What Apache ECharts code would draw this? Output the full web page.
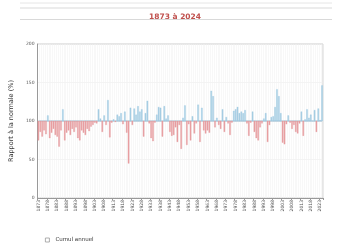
<!DOCTYPE html>
<html><head><meta charset="utf-8">
<script src="https://cdn.jsdelivr.net/npm/echarts@6/dist/echarts.min.js"></script>
<style>html,body{margin:0;padding:0;background:#fff}#c{width:350px;height:250px}</style>
</head><body><div id="c"></div>
<script>
const startYear = 1873;
const years = [];
for (let y = 1873; y <= 2024; y++) years.push(String(y));
const values = [
 75,86,80,88,83,107,78,85,90,82,
 80,67,88,115,75,85,88,82,90,86,
 92,78,75,88,85,82,90,87,93,95,
 98,97,115,103,86,107,95,127,79,98,
 102,99,108,106,110,96,112,85,45,117,
 95,116,108,119,112,115,80,110,126,97,
 78,74,98,108,118,117,80,119,103,107,
 86,81,82,92,73,95,64,104,120,69,
 96,75,106,84,97,121,73,117,88,84,
 88,85,139,132,92,104,95,90,115,86,
 105,97,82,98,113,115,118,110,112,110,
 114,97,81,98,112,86,78,75,92,97,
 103,110,73,95,105,106,118,141,132,110,
 72,70,96,107,98,90,95,86,84,97,
 112,81,102,115,104,108,100,114,86,116,
 101,146
];
const yTicks = [0, 50, 100, 150, 200];
const normal = 100;

const chart = echarts.init(document.getElementById('c'));
chart.setOption({
  animation: false,
  title: {
    text: '1873 à 2024', left: 'center', top: 8,
    textStyle: { color: '#c0504d', fontSize: 7.5, fontWeight: 'bold', fontFamily: 'DejaVu Sans' }
  },
  graphic: [
    { type: 'line', shape: { x1: 20, y1: 3, x2: 332, y2: 3 }, style: { stroke: '#e6e6e6', lineWidth: 1 } },
    { type: 'line', shape: { x1: 20, y1: 8, x2: 332, y2: 8 }, style: { stroke: '#d9d9d9', lineWidth: 1 } },
    { type: 'line', shape: { x1: 20, y1: 19.5, x2: 332, y2: 19.5 }, style: { stroke: '#d9d9d9', lineWidth: 1 } }
  ],
  legend: {
    left: 40, top: 232, itemWidth: 4, itemHeight: 4, itemGap: 3,
    icon: 'rect',
    data: [{ name: 'Cumul annuel', itemStyle: { color: '#fff', borderColor: '#999', borderWidth: 0.8 } }],
    textStyle: { fontSize: 5.5, color: '#333', fontFamily: 'DejaVu Sans', padding: [0, 0, 0, 1] }
  },
  grid: { left: 37, right: 27, top: 44, bottom: 52, show: true, borderColor: '#ccc', borderWidth: 1 },
  xAxis: {
    type: 'category', data: years, boundaryGap: true,
    axisLine: { lineStyle: { color: '#999' } },
    axisTick: { show: true, interval: 4, length: 2, lineStyle: { color: '#999' } },
    axisLabel: { interval: 4, rotate: 90, fontSize: 4.5, color: '#555', margin: 2, fontFamily: 'DejaVu Sans' },
    splitLine: { show: true, interval: 0, lineStyle: { color: '#f0f0f0', width: 0.5 } }
  },
  yAxis: {
    type: 'value', min: 0, max: 200, interval: 50,
    name: 'Rapport à la normale (%)', nameLocation: 'middle', nameGap: 12,
    nameTextStyle: { fontSize: 6.5, color: '#333', fontFamily: 'DejaVu Sans' },
    axisLine: { show: true, lineStyle: { color: '#999' } },
    axisTick: { show: false },
    axisLabel: { fontSize: 4.5, color: '#555', margin: 3, fontFamily: 'DejaVu Sans',
      formatter: v => yTicks.includes(v) ? String(v) : '' },
    splitLine: { lineStyle: { color: '#e8e8e8', width: 0.5 } }
  },
  series: [
    {
      name: 'Cumul annuel', type: 'custom',
      data: values.map((v, i) => [i, v]),
      itemStyle: { color: '#fff', borderColor: '#999' },
      renderItem: function (params, api) {
        const i = api.value(0), v = api.value(1);
        const p0 = api.coord([i, normal]);
        const p1 = api.coord([i, v]);
        const w = api.size([1, 0])[0] * 0.62;
        const up = v >= normal;
        const y = Math.min(p0[1], p1[1]);
        const h = Math.abs(p1[1] - p0[1]);
        return {
          type: 'rect',
          shape: { x: p0[0] - w / 2, y: y, width: w, height: h },
          style: {
            fill: up ? '#add2e5' : '#eaa3a6',
            stroke: up ? '#8cc0dc' : '#e08f93',
            lineWidth: 0.3
          }
        };
      }
    },
    {
      type: 'line', data: values.map(() => normal), symbol: 'none', silent: true,
      lineStyle: { color: '#9bbcd0', width: 1 }, z: 1
    }
  ]
});
</script></body></html>
